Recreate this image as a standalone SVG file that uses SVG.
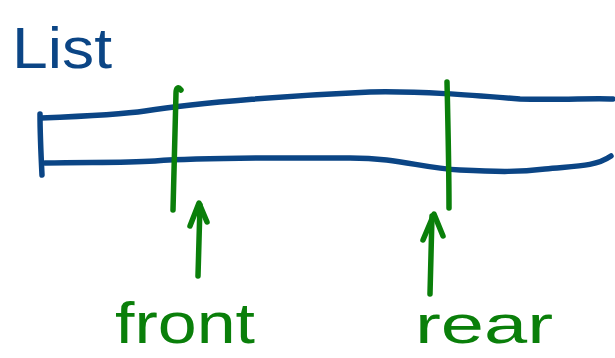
<svg xmlns="http://www.w3.org/2000/svg" width="615" height="358" viewBox="0 0 615 358">
<style>
.blue{fill:none;stroke:#0b4585;stroke-width:5.5;stroke-linecap:round;stroke-linejoin:round}
.green{fill:none;stroke:#0a7f0a;stroke-width:5.5;stroke-linecap:round;stroke-linejoin:round}
.lbl{font-family:"Liberation Sans",Arial,sans-serif;}
</style>
<rect width="615" height="358" fill="#ffffff"/>
<g id="list-label">
<text class="lbl" x="12" y="68" font-size="58" fill="#0b4585" textLength="100" lengthAdjust="spacingAndGlyphs">List</text>
</g>
<g id="list">
<path class="blue" d="M40,114 C40,135 41,155 42,175"/>
<path class="blue" d="M41,118 C90,116 125,114 145,111 C200,102 300,95 370,92 C420,91 470,95 520,99 C560,100 595,98 613,99"/>
<path class="blue" d="M45,163 C90,162 120,163 155,161 C210,157 300,158 350,158 C400,158 420,168 460,170 C500,172 520,172 545,169 C575,166 595,167 611,156"/>
</g>
<g id="front">
<path class="green" d="M181,90 C178,86 176,88 176,93 C175,130 174,170 173,210"/>
<text class="lbl" x="115" y="343" font-size="58" fill="#0a7f0a" textLength="140" lengthAdjust="spacingAndGlyphs">front</text>
</g>
<g id="rear">
<path class="green" d="M447,82 C448,125 449,170 449,208"/>
<text class="lbl" x="415" y="343" font-size="54" fill="#0a7f0a" textLength="138" lengthAdjust="spacingAndGlyphs">rear</text>
</g>
<g id="connectors">
<path class="green" d="M198,276 L200,205"/>
<path class="green" d="M190,226 L199,203 L207,222"/>
<path class="green" d="M430,294 L432,216"/>
<path class="green" d="M423,240 L434,214 L443,236"/>
</g>
</svg>
